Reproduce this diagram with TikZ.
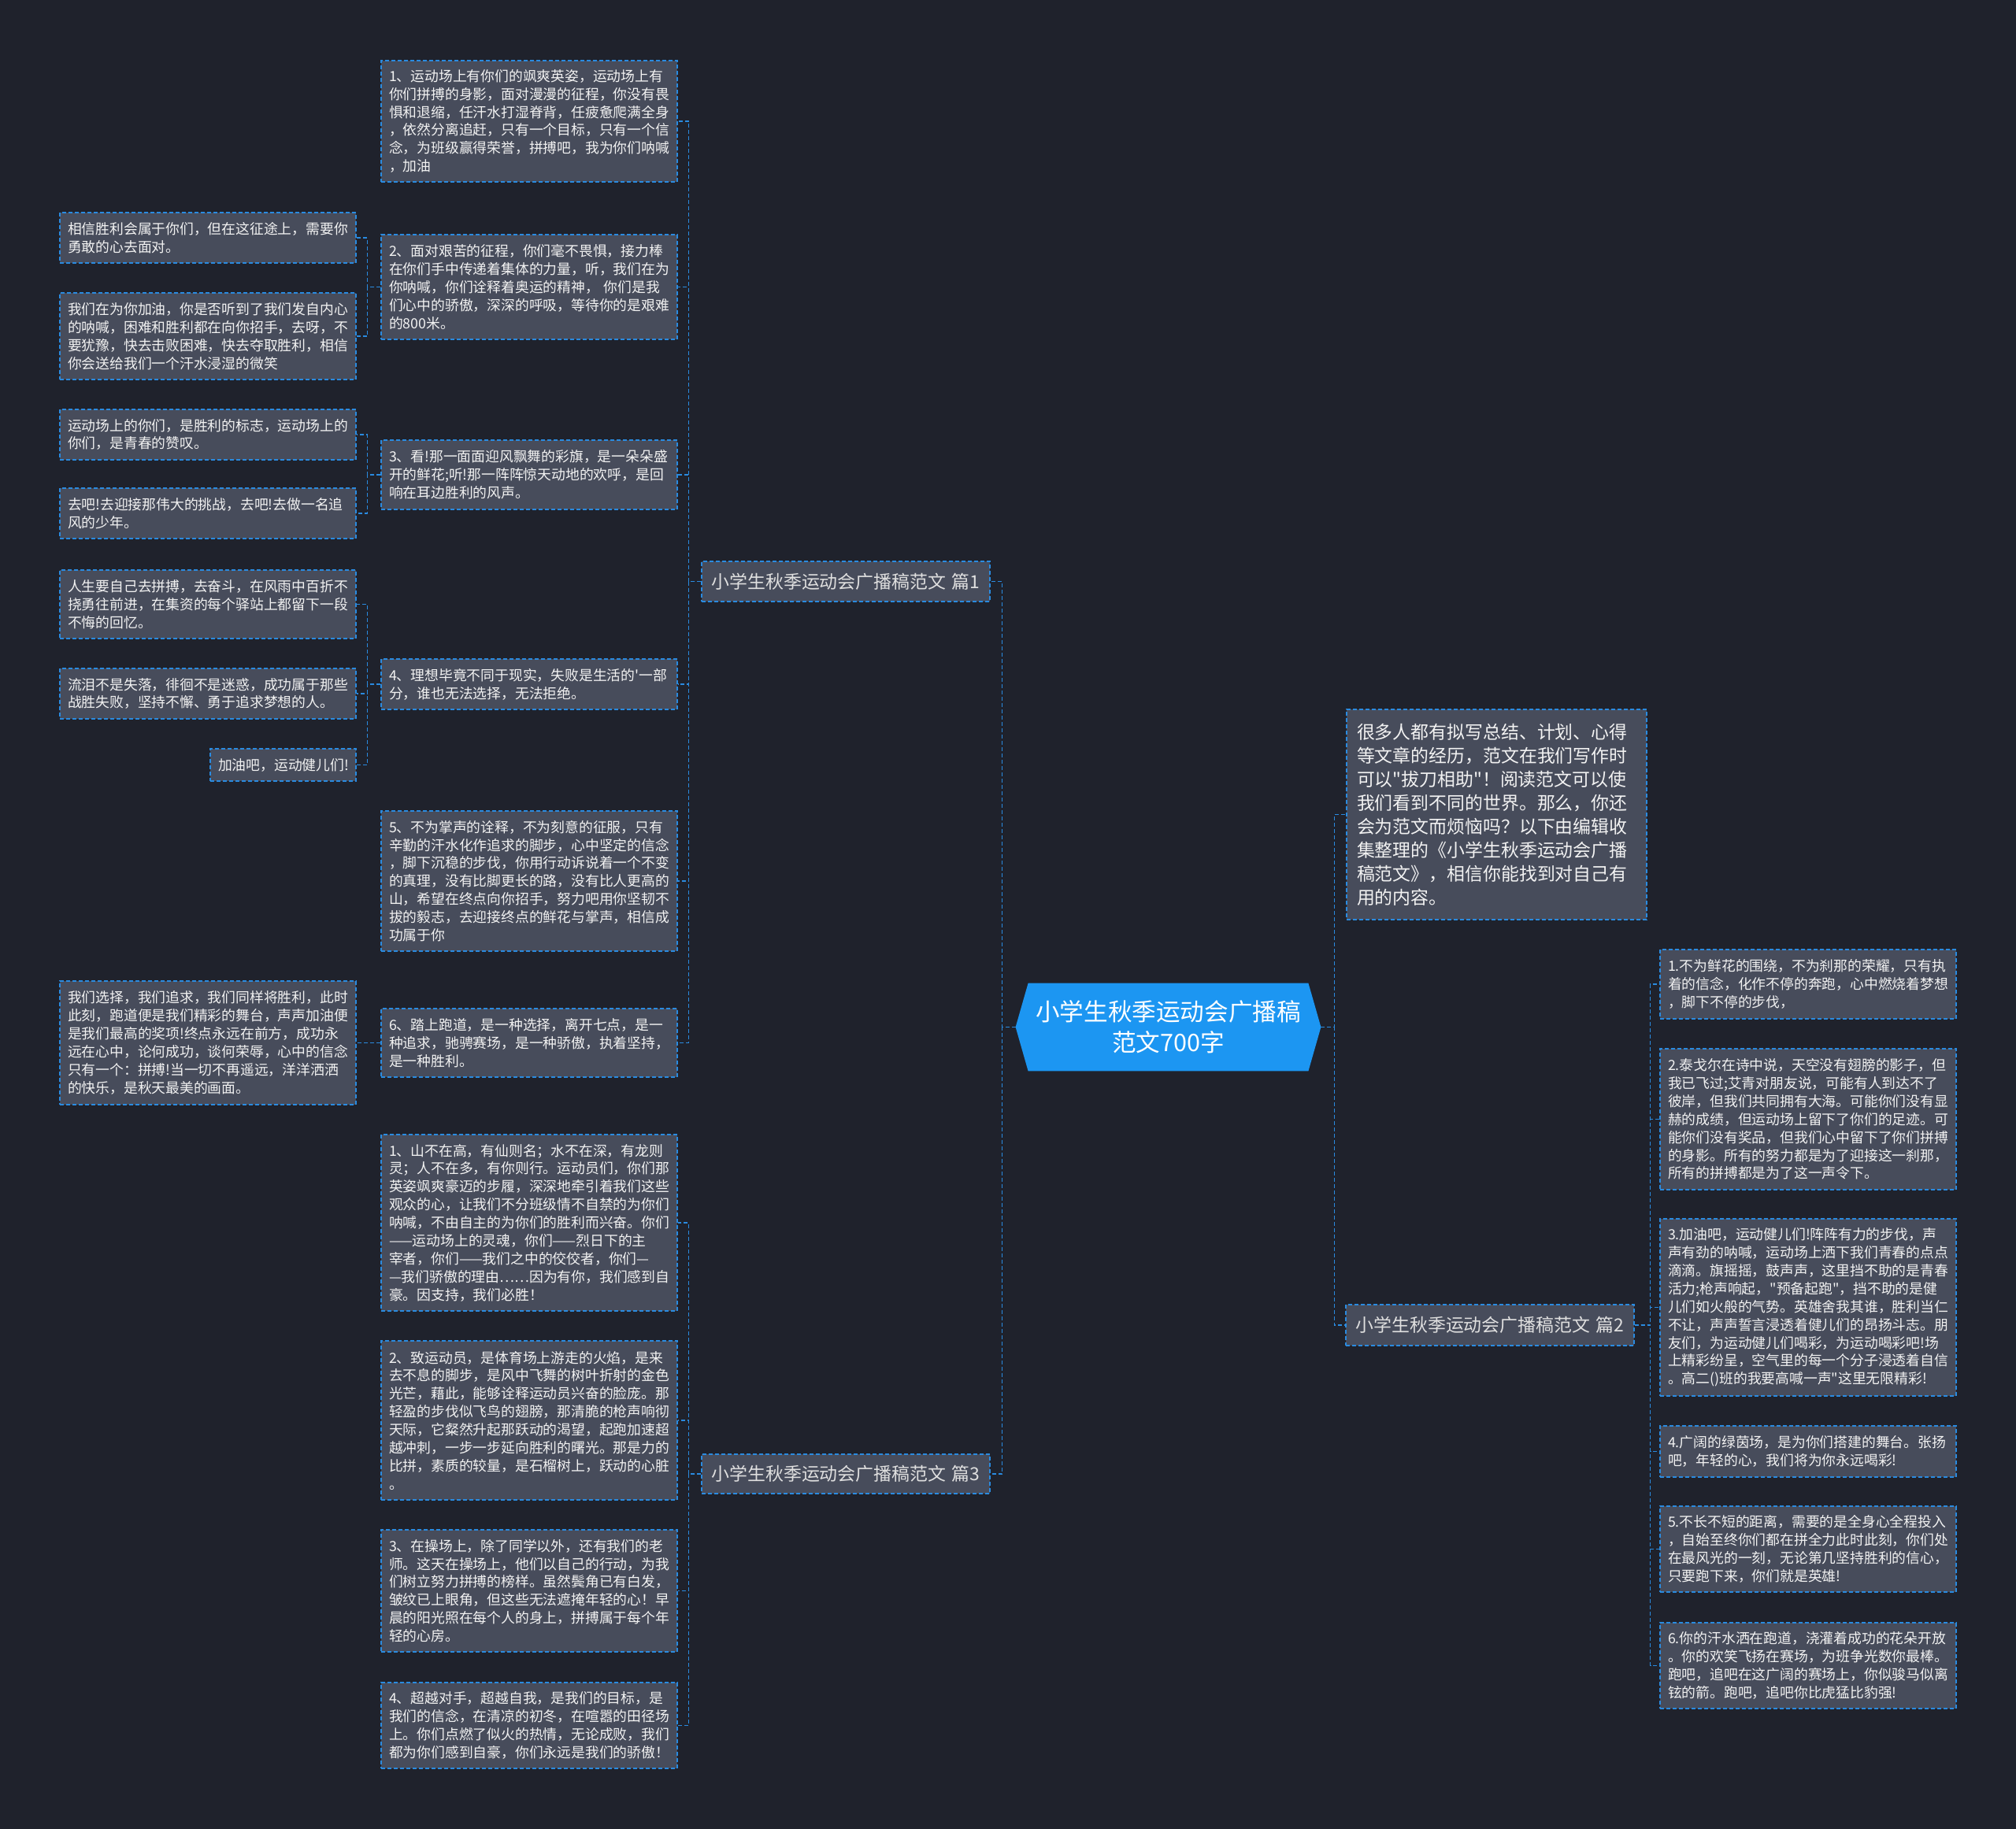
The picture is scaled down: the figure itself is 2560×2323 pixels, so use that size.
\documentclass[tikz,border=0pt]{standalone}
\usepackage{fontspec}
\newfontfamily\cjk{Noto Sans CJK SC}
\usetikzlibrary{calc,backgrounds}
\definecolor{bgc}{HTML}{1F222C}
\definecolor{boxc}{HTML}{474C5B}
\definecolor{linec}{HTML}{2A8BE0}
\definecolor{cblue}{HTML}{1C96F2}
\definecolor{txtc}{HTML}{F2F2F2}
\newcommand\boxnode[8]{%
  \pgfmathsetmacro\mybw{(#5-#3)*0.5}%
  \pgfmathsetmacro\mybh{(#6-#4)*0.5}%
  \pgfmathsetmacro\mybtw{(#5-#3-2*#7)*0.5}%
  \pgfmathsetmacro\mybx{(#3+#5)/2}%
  \pgfmathsetmacro\myby{(#4+#6)/2}%
  \node[#1, minimum width=\mybw pt, minimum height=\mybh pt, text width=\mybtw pt] (#2) at (\mybx,\myby) {#8};}
\begin{document}
\begin{tikzpicture}[x=0.5pt,y=-0.5pt,
  boxbase/.style={draw=linec, fill=boxc, line width=0.65pt, dash pattern=on 2.5pt off 1.5pt, inner sep=0pt, text=txtc},
  leaf/.style={boxbase, align=left, font={\cjk\fontsize{8.9pt}{11.43pt}\selectfont}},
  introbox/.style={boxbase, align=left, font={\cjk\fontsize{11.45pt}{15pt}\selectfont}},
  branch/.style={boxbase, align=center, text=txtc!92!black, font={\cjk\fontsize{11.45pt}{14pt}\selectfont}},
  centernode/.style={inner sep=0pt, align=center, text=white, minimum width=193.5pt, minimum height=55.5pt, font={\cjk\fontsize{15.3pt}{19.6pt}\selectfont}},
  conn/.style={draw=linec, line width=0.65pt, dash pattern=on 2.5pt off 1.5pt}]
\useasboundingbox (0,0) rectangle (2560,2323);

% center
\node[centernode] (c) at (1483.5,1304.5) {小学生秋季运动会广播稿\\范文700字};

% branches
\boxnode{branch}{b1}{891}{713}{1257}{764}{8}{小学生秋季运动会广播稿范文 篇1}
\boxnode{branch}{b3}{891}{1847}{1257}{1897}{8}{小学生秋季运动会广播稿范文 篇3}
\boxnode{branch}{b2}{1709}{1657}{2075}{1709}{8}{小学生秋季运动会广播稿范文 篇2}
\boxnode{introbox}{intro}{1710}{901}{2091}{1168}{13}{很多人都有拟写总结、计划、心得\\等文章的经历，范文在我们写作时\\可以"拔刀相助"！阅读范文可以使\\我们看到不同的世界。那么，你还\\会为范文而烦恼吗？以下由编辑收\\集整理的《小学生秋季运动会广播\\稿范文》，相信你能找到对自己有\\用的内容。}

% branch 1 leaves
\boxnode{leaf}{L11}{484}{77}{860}{231}{10}{1、运动场上有你们的飒爽英姿，运动场上有\\你们拼搏的身影，面对漫漫的征程，你没有畏\\惧和退缩，任汗水打湿脊背，任疲惫爬满全身\\，依然分离追赶，只有一个目标，只有一个信\\念，为班级赢得荣誉，拼搏吧，我为你们呐喊\\，加油}
\boxnode{leaf}{L12}{484}{298}{860}{431}{10}{2、面对艰苦的征程，你们毫不畏惧，接力棒\\在你们手中传递着集体的力量，听，我们在为\\你呐喊，你们诠释着奥运的精神，\ 你们是我\\们心中的骄傲，深深的呼吸，等待你的是艰难\\的800米。}
\boxnode{leaf}{L13}{484}{559}{860}{647}{10}{3、看!那一面面迎风飘舞的彩旗，是一朵朵盛\\开的鲜花;听!那一阵阵惊天动地的欢呼，是回\\响在耳边胜利的风声。}
\boxnode{leaf}{L14}{484}{837}{860}{901}{10}{4、理想毕竟不同于现实，失败是生活的'一部\\分，谁也无法选择，无法拒绝。}
\boxnode{leaf}{L15}{484}{1030}{860}{1208}{10}{5、不为掌声的诠释，不为刻意的征服，只有\\辛勤的汗水化作追求的脚步，心中坚定的信念\\，脚下沉稳的步伐，你用行动诉说着一个不变\\的真理，没有比脚更长的路，没有比人更高的\\山，希望在终点向你招手，努力吧用你坚韧不\\拔的毅志，去迎接终点的鲜花与掌声，相信成\\功属于你}
\boxnode{leaf}{L16}{484}{1281}{860}{1368}{10}{6、踏上跑道，是一种选择，离开七点，是一\\种追求，驰骋赛场，是一种骄傲，执着坚持，\\是一种胜利。}

% far left leaves
\boxnode{leaf}{A1}{76}{270}{452}{334}{10}{相信胜利会属于你们，但在这征途上，需要你\\勇敢的心去面对。}
\boxnode{leaf}{A2}{76}{372}{452}{482}{10}{我们在为你加油，你是否听到了我们发自内心\\的呐喊，困难和胜利都在向你招手，去呀，不\\要犹豫，快去击败困难，快去夺取胜利，相信\\你会送给我们一个汗水浸湿的微笑}
\boxnode{leaf}{B1}{76}{520}{452}{584}{10}{运动场上的你们，是胜利的标志，运动场上的\\你们，是青春的赞叹。}
\boxnode{leaf}{B2}{76}{620}{452}{684}{10}{去吧!去迎接那伟大的挑战，去吧!去做一名追\\风的少年。}
\boxnode{leaf}{C1}{76}{724}{452}{811}{10}{人生要自己去拼搏，去奋斗，在风雨中百折不\\挠勇往前进，在集资的每个驿站上都留下一段\\不悔的回忆。}
\boxnode{leaf}{C2}{76}{849}{452}{913}{10}{流泪不是失落，徘徊不是迷惑，成功属于那些\\战胜失败，坚持不懈、勇于追求梦想的人。}
\boxnode{leaf}{C3}{267}{951}{452}{992}{10}{加油吧，运动健儿们!}
\boxnode{leaf}{D1}{76}{1246}{452}{1403}{10}{我们选择，我们追求，我们同样将胜利，此时\\此刻，跑道便是我们精彩的舞台，声声加油便\\是我们最高的奖项!终点永远在前方，成功永\\远在心中，论何成功，谈何荣辱，心中的信念\\只有一个：拼搏!当一切不再遥远，洋洋洒洒\\的快乐，是秋天最美的画面。}

% branch 3 leaves
\boxnode{leaf}{L31}{484}{1441}{860}{1665}{10}{1、山不在高，有仙则名；水不在深，有龙则\\灵；人不在多，有你则行。运动员们，你们那\\英姿飒爽豪迈的步履，深深地牵引着我们这些\\观众的心，让我们不分班级情不自禁的为你们\\呐喊，不由自主的为你们的胜利而兴奋。你们\\\mbox{——运动场上的灵魂，你们——烈日下的主}\\\mbox{宰者，你们——我们之中的佼佼者，你们—}\\\mbox{—我们骄傲的理由……因为有你，我们感到自}\\豪。因支持，我们必胜！}
\boxnode{leaf}{L32}{484}{1703}{860}{1905}{10}{2、致运动员，是体育场上游走的火焰，是来\\去不息的脚步，是风中飞舞的树叶折射的金色\\光芒，藉此，能够诠释运动员兴奋的脸庞。那\\轻盈的步伐似飞鸟的翅膀，那清脆的枪声响彻\\天际，它粲然升起那跃动的渴望，起跑加速超\\越冲刺，一步一步延向胜利的曙光。那是力的\\比拼，素质的较量，是石榴树上，跃动的心脏\\。}
\boxnode{leaf}{L33}{484}{1943}{860}{2098}{10}{3、在操场上，除了同学以外，还有我们的老\\师。这天在操场上，他们以自己的行动，为我\\们树立努力拼搏的榜样。虽然鬓角已有白发，\\皱纹已上眼角，但这些无法遮掩年轻的心！早\\晨的阳光照在每个人的身上，拼搏属于每个年\\轻的心房。}
\boxnode{leaf}{L34}{484}{2137}{860}{2246}{10}{4、超越对手，超越自我，是我们的目标，是\\我们的信念，在清凉的初冬，在喧嚣的田径场\\上。你们点燃了似火的热情，无论成败，我们\\都为你们感到自豪，你们永远是我们的骄傲！}

% branch 2 leaves
\boxnode{leaf}{R1}{2108}{1206}{2484}{1294}{10}{1.不为鲜花的围绕，不为刹那的荣耀，只有执\\着的信念，化作不停的奔跑，心中燃烧着梦想\\，脚下不停的步伐，}
\boxnode{leaf}{R2}{2108}{1332}{2484}{1511}{10}{2.泰戈尔在诗中说，天空没有翅膀的影子，但\\我已飞过;艾青对朋友说，可能有人到达不了\\彼岸，但我们共同拥有大海。可能你们没有显\\赫的成绩，但运动场上留下了你们的足迹。可\\能你们没有奖品，但我们心中留下了你们拼搏\\的身影。所有的努力都是为了迎接这一刹那，\\所有的拼搏都是为了这一声令下。}
\boxnode{leaf}{R3}{2108}{1548}{2484}{1773}{10}{3.加油吧，运动健儿们!阵阵有力的步伐，声\\声有劲的呐喊，运动场上洒下我们青春的点点\\滴滴。旗摇摇，鼓声声，这里挡不助的是青春\\活力;枪声响起，"预备起跑"，挡不助的是健\\儿们如火般的气势。英雄舍我其谁，胜利当仁\\不让，声声誓言浸透着健儿们的昂扬斗志。朋\\友们，为运动健儿们喝彩，为运动喝彩吧!场\\上精彩纷呈，空气里的每一个分子浸透着自信\\。高二()班的我要高喊一声"这里无限精彩!}
\boxnode{leaf}{R4}{2108}{1811}{2484}{1876}{10}{4.广阔的绿茵场，是为你们搭建的舞台。张扬\\吧，年轻的心，我们将为你永远喝彩!}
\boxnode{leaf}{R5}{2108}{1913}{2484}{2022}{10}{5.不长不短的距离，需要的是全身心全程投入\\，自始至终你们都在拼全力此时此刻，你们处\\在最风光的一刻，无论第几坚持胜利的信心，\\只要跑下来，你们就是英雄!}
\boxnode{leaf}{R6}{2108}{2061}{2484}{2170}{10}{6.你的汗水洒在跑道，浇灌着成功的花朵开放\\。你的欢笑飞扬在赛场，为班争光数你最棒。\\跑吧，追吧在这广阔的赛场上，你似骏马似离\\铉的箭。跑吧，追吧你比虎猛比豹强!}

% connectors
\foreach \n in {b1,b3} \draw[conn] (c.west) -- ++(-17,0) |- (\n.east);
\foreach \n in {intro,b2} \draw[conn] (c.east) -- ++(17,0) |- (\n.west);
\foreach \n in {L11,L12,L13,L14,L15,L16} \draw[conn] (b1.west) -- ++(-16,0) |- (\n.east);
\foreach \n in {L31,L32,L33,L34} \draw[conn] (b3.west) -- ++(-16,0) |- (\n.east);
\foreach \n in {R1,R2,R3,R4,R5,R6} \draw[conn] (b2.east) -- ++(20,0) |- (\n.west);
\foreach \n in {A1,A2} \draw[conn] (L12.west) -- ++(-17,0) |- (\n.east);
\foreach \n in {B1,B2} \draw[conn] (L13.west) -- ++(-17,0) |- (\n.east);
\foreach \n in {C1,C2,C3} \draw[conn] (L14.west) -- ++(-17,0) |- (\n.east);
\draw[conn] (L16.west) -- ++(-17,0) |- (D1.east);

\begin{scope}[on background layer]
  \fill[bgc] (0,0) rectangle (2560,2323);
  \fill[cblue] ($(c.north west)+(16,0)$) -- ($(c.north east)+(-16,0)$) -- (c.east) -- ($(c.south east)+(-16,0)$) -- ($(c.south west)+(16,0)$) -- (c.west) -- cycle;
\end{scope}
\end{tikzpicture}
\end{document}
